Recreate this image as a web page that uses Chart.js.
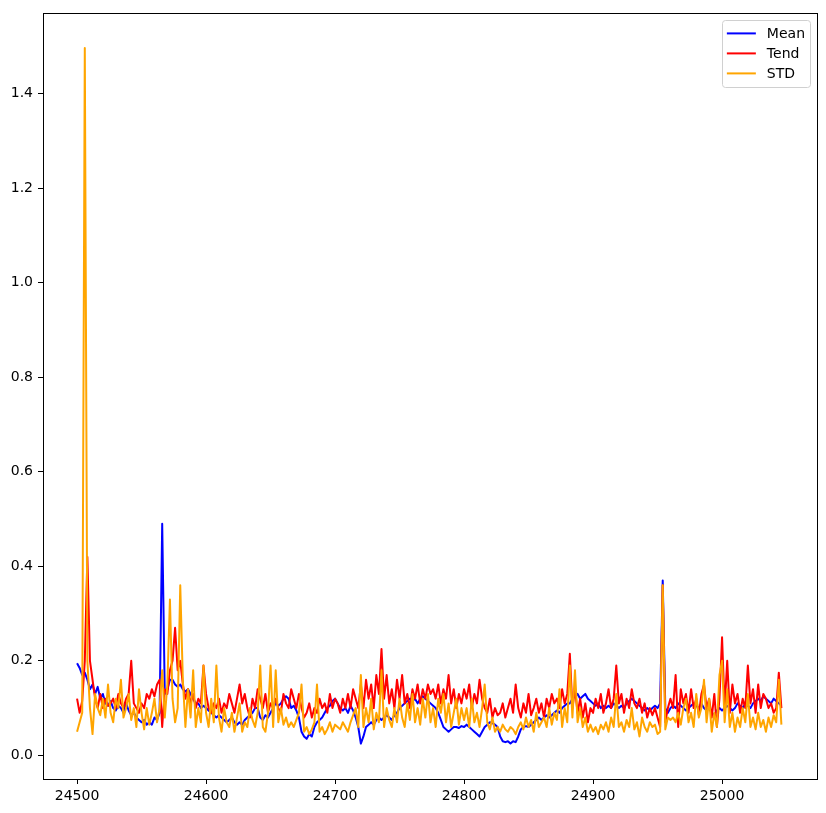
<!DOCTYPE html>
<html>
<head>
<meta charset="utf-8">
<script src="https://cdn.jsdelivr.net/npm/chart.js@4.4.1/dist/chart.umd.min.js"></script>
<style>
  html, body { margin: 0; padding: 0; background: #fff; }
  .chart-container { position: relative; width: 826px; height: 813px; }
</style>
</head>
<body>
<div class="chart-container"><canvas id="chart"></canvas></div>
<script>
// series sampled every 2 steps, starting at 24500
const X_START = 24500;
const X_STEP = 2;
const X_TICKS = [24500, 24600, 24700, 24800, 24900, 25000];
const Y_TICKS = [0, 0.2, 0.4, 0.6, 0.8, 1.0, 1.2, 1.4];
const SERIES_NAMES = ['Mean', 'Tend', 'STD'];

const MEAN = [
  0.195,0.185,0.17,0.175,0.16,0.14,0.15,0.13,0.145,0.12,0.13,0.11,0.105,0.115,0.1,0.095,0.105,0.1,0.09,0.11,
  0.095,0.085,0.09,0.08,0.075,0.07,0.075,0.065,0.07,0.065,0.08,0.075,0.09,0.49,0.13,
  0.14,0.16,0.16,0.15,0.145,0.15,0.14,0.135,0.14,0.13,0.12,0.11,0.11,0.1,0.105,0.1,0.095,0.09,0.085,0.08,
  0.085,0.08,0.075,0.07,0.075,0.08,0.07,0.065,0.07,0.065,0.075,0.08,0.085,0.09,0.1,0.1,
  0.08,0.075,0.085,0.08,0.09,0.1,0.11,0.105,0.11,0.12,0.125,0.12,0.1,0.105,0.095,0.08,0.05,0.04,0.035,0.045,
  0.04,0.06,0.07,0.075,0.08,0.09,0.1,0.105,0.115,0.12,0.11,0.1,0.095,0.1,0.09,0.105,0.095,0.08,0.06,0.025,
  0.04,0.06,0.065,0.07,0.065,0.075,0.08,0.075,0.08,0.085,0.08,0.075,0.085,0.09,0.1,0.105,0.11,0.115,0.12,0.115,
  0.12,0.11,0.12,0.125,0.12,0.115,0.11,0.105,0.1,0.09,0.075,0.06,0.055,0.05,0.055,0.06,0.06,0.058,0.062,0.06,
  0.065,0.06,0.055,0.05,0.045,0.04,0.05,0.06,0.065,0.07,0.068,0.065,0.06,0.04,0.03,0.028,0.03,0.025,0.03,0.028,
  0.04,0.055,0.06,0.062,0.06,0.065,0.07,0.075,0.08,0.075,0.08,0.085,0.08,0.085,0.09,0.095,0.09,0.1,0.105,0.11,
  0.11,0.12,0.125,0.13,0.12,0.125,0.13,0.12,0.115,0.11,0.105,0.11,0.1,0.105,0.1,0.105,0.1,0.11,0.105,0.1,
  0.105,0.1,0.11,0.115,0.12,0.115,0.11,0.105,0.1,0.095,0.1,0.095,0.1,0.105,0.1,0.11,0.37,0.1,0.09,0.1,
  0.105,0.1,0.11,0.105,0.1,0.095,0.1,0.105,0.11,0.105,0.1,0.11,0.1,0.095,0.1,0.09,0.085,0.095,0.1,0.095,
  0.1,0.105,0.1,0.095,0.1,0.11,0.105,0.1,0.11,0.105,0.1,0.11,0.115,0.12,0.115,0.125,0.12,0.115,0.11,0.12,
  0.115,0.11,0.105
];

const TEND = [
  0.12,0.09,0.115,0.2,0.42,0.2,0.16,0.12,0.1,0.13,0.1,0.12,0.105,0.11,0.12,0.1,0.13,0.11,0.1,0.12,
  0.13,0.2,0.11,0.1,0.09,0.11,0.1,0.13,0.12,0.14,0.125,0.15,0.16,0.06,0.14,
  0.13,0.18,0.2,0.27,0.18,0.2,0.15,0.12,0.14,0.11,0.13,0.1,0.12,0.11,0.19,0.13,0.1,0.09,0.11,0.1,
  0.12,0.09,0.11,0.1,0.13,0.11,0.09,0.12,0.15,0.11,0.13,0.1,0.08,0.12,0.1,0.14,
  0.12,0.1,0.13,0.09,0.11,0.1,0.12,0.1,0.09,0.13,0.11,0.1,0.14,0.12,0.1,0.13,0.1,0.08,0.09,0.11,
  0.08,0.1,0.09,0.12,0.1,0.11,0.09,0.13,0.1,0.12,0.11,0.09,0.12,0.1,0.13,0.1,0.14,0.12,0.1,0.15,
  0.1,0.16,0.12,0.15,0.1,0.17,0.13,0.225,0.12,0.17,0.11,0.14,0.1,0.16,0.12,0.17,0.11,0.13,0.1,0.14,
  0.12,0.15,0.11,0.14,0.12,0.15,0.13,0.14,0.12,0.15,0.11,0.14,0.12,0.17,0.11,0.14,0.1,0.13,0.11,0.14,
  0.12,0.15,0.1,0.13,0.11,0.16,0.12,0.1,0.09,0.12,0.08,0.1,0.085,0.09,0.11,0.08,0.1,0.12,0.09,0.15,
  0.1,0.08,0.11,0.09,0.13,0.085,0.1,0.12,0.09,0.11,0.08,0.12,0.1,0.13,0.11,0.12,0.1,0.14,0.11,0.13,
  0.215,0.1,0.14,0.09,0.12,0.08,0.11,0.07,0.1,0.09,0.12,0.1,0.13,0.09,0.11,0.14,0.1,0.12,0.19,0.11,
  0.13,0.09,0.12,0.1,0.14,0.11,0.1,0.12,0.09,0.11,0.08,0.1,0.085,0.1,0.08,0.06,0.36,0.07,0.1,0.12,
  0.1,0.17,0.06,0.14,0.11,0.13,0.09,0.14,0.1,0.12,0.085,0.13,0.15,0.1,0.12,0.08,0.13,0.06,0.12,0.25,
  0.1,0.2,0.09,0.15,0.11,0.13,0.09,0.12,0.1,0.19,0.11,0.14,0.09,0.15,0.1,0.13,0.12,0.1,0.11,0.09,
  0.1,0.175,0.1
];

const STD = [
  0.05,0.07,0.09,1.497,0.2,0.1,0.045,0.13,0.1,0.085,0.12,0.08,0.15,0.09,0.07,0.12,0.1,0.16,0.08,0.1,
  0.13,0.075,0.1,0.06,0.14,0.09,0.055,0.1,0.065,0.09,0.12,0.07,0.1,0.18,0.08,
  0.15,0.33,0.12,0.07,0.1,0.36,0.16,0.06,0.14,0.08,0.18,0.06,0.1,0.07,0.19,0.09,0.06,0.12,0.07,0.19,
  0.08,0.05,0.1,0.07,0.06,0.09,0.05,0.08,0.11,0.05,0.07,0.06,0.1,0.075,0.06,0.09,
  0.19,0.06,0.05,0.09,0.19,0.06,0.18,0.07,0.1,0.065,0.08,0.06,0.07,0.06,0.075,0.09,0.15,0.05,0.06,0.045,
  0.055,0.07,0.15,0.05,0.06,0.045,0.055,0.07,0.05,0.065,0.06,0.055,0.07,0.06,0.05,0.07,0.085,0.1,0.06,0.17,
  0.06,0.1,0.07,0.12,0.055,0.09,0.07,0.18,0.06,0.1,0.075,0.06,0.1,0.07,0.12,0.08,0.06,0.11,0.075,0.13,
  0.07,0.1,0.065,0.12,0.08,0.13,0.07,0.1,0.06,0.12,0.09,0.13,0.07,0.11,0.06,0.09,0.12,0.065,0.1,0.075,
  0.1,0.06,0.12,0.07,0.09,0.06,0.1,0.15,0.07,0.055,0.08,0.05,0.06,0.05,0.065,0.055,0.05,0.06,0.055,0.045,
  0.06,0.07,0.055,0.08,0.06,0.075,0.05,0.09,0.06,0.07,0.08,0.06,0.1,0.065,0.09,0.075,0.14,0.06,0.1,0.07,
  0.19,0.08,0.18,0.07,0.1,0.06,0.08,0.05,0.065,0.05,0.06,0.045,0.065,0.055,0.07,0.05,0.08,0.06,0.13,0.06,
  0.07,0.05,0.075,0.06,0.1,0.055,0.07,0.04,0.08,0.06,0.05,0.07,0.06,0.065,0.045,0.05,0.36,0.055,0.08,0.075,
  0.08,0.07,0.09,0.065,0.1,0.12,0.07,0.09,0.06,0.13,0.08,0.1,0.16,0.07,0.12,0.05,0.09,0.06,0.17,0.2,
  0.07,0.14,0.06,0.09,0.05,0.08,0.06,0.1,0.07,0.13,0.06,0.08,0.055,0.09,0.06,0.075,0.05,0.08,0.06,0.085,
  0.07,0.16,0.065
];

const xs = MEAN.map((_, i) => X_START + i * X_STEP);
const toPoints = arr => arr.map((y, i) => ({ x: xs[i], y: y }));

// top/right spines plus a matplotlib-like legend box
const framePlugin = {
  id: 'frame',
  afterDraw(chart) {
    const { ctx, chartArea: a } = chart;
    ctx.save();
    ctx.strokeStyle = '#000';
    ctx.lineWidth = 1;
    ctx.strokeRect(Math.round(a.left) + 0.5, Math.round(a.top) + 0.5,
      Math.round(a.right - a.left), Math.round(a.bottom - a.top));

    ctx.font = '14px "DejaVu Sans"';
    const sets = chart.data.datasets;
    const textW = Math.max(...sets.map(d => ctx.measureText(d.label).width));
    const boxW = 5 + 29 + 11 + textW + 5;
    const boxH = 67;
    const right = a.right - 7;
    const top = a.top + 7;
    const left = right - boxW;
    ctx.beginPath();
    ctx.roundRect(Math.round(left) + 0.5, Math.round(top) + 0.5, Math.round(boxW), boxH, 3);
    ctx.fillStyle = 'rgba(255,255,255,0.8)';
    ctx.fill();
    ctx.strokeStyle = '#d0d0d0';
    ctx.stroke();
    sets.forEach((d, i) => {
      const y = top + 13 + i * 20;
      ctx.beginPath();
      ctx.moveTo(left + 5, y);
      ctx.lineTo(left + 34, y);
      ctx.strokeStyle = d.borderColor;
      ctx.lineWidth = 2;
      ctx.stroke();
      ctx.fillStyle = '#000';
      ctx.textBaseline = 'middle';
      ctx.textAlign = 'left';
      ctx.fillText(d.label, left + 45, y + 1);
    });
    ctx.restore();
  }
};

Chart.defaults.font.family = '"DejaVu Sans"';
Chart.defaults.font.size = 14;
Chart.defaults.color = '#000';

new Chart(document.getElementById('chart').getContext('2d'), {
  type: 'line',
  data: {
    datasets: [
      { label: SERIES_NAMES[0], data: toPoints(MEAN), borderColor: '#0000ff', order: 3 },
      { label: SERIES_NAMES[1], data: toPoints(TEND), borderColor: '#ff0000', order: 2 },
      { label: SERIES_NAMES[2], data: toPoints(STD), borderColor: '#ffa500', order: 1 }
    ]
  },
  options: {
    responsive: true,
    maintainAspectRatio: false,
    animation: false,
    parsing: false,
    layout: { padding: { top: 9, right: 9, left: 0, bottom: 0 } },
    elements: {
      point: { radius: 0 },
      line: { borderWidth: 2, tension: 0, borderJoinStyle: 'round', fill: false }
    },
    scales: {
      x: {
        type: 'linear',
        min: 24473.6,
        max: 25073.6,
        afterFit: s => { s.height = 34; },
        afterBuildTicks: s => { s.ticks = X_TICKS.map(v => ({ value: v })); },
        ticks: { padding: 4, maxRotation: 0, callback: v => String(v) },
        grid: { drawOnChartArea: false, drawTicks: true, tickLength: 5, color: '#000' },
        border: { display: true, color: '#000', width: 1 }
      },
      y: {
        min: -0.05,
        max: 1.57,
        afterFit: s => { s.width = 43; },
        afterBuildTicks: s => { s.ticks = Y_TICKS.map(v => ({ value: v })); },
        ticks: { padding: 5, callback: v => v.toFixed(1) },
        grid: { drawOnChartArea: false, drawTicks: true, tickLength: 5, color: '#000' },
        border: { display: true, color: '#000', width: 1 }
      }
    },
    plugins: {
      legend: { display: false },
      tooltip: { enabled: false }
    }
  },
  plugins: [framePlugin]
});
</script>
</body>
</html>
